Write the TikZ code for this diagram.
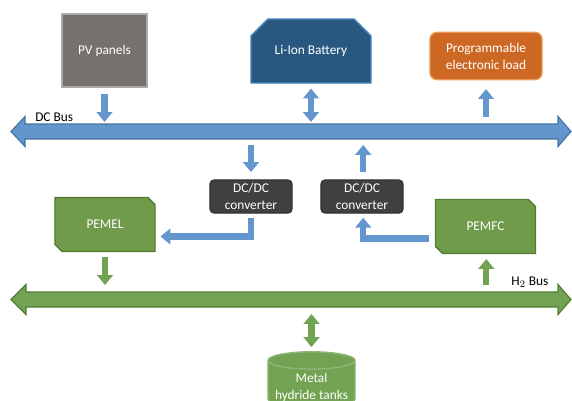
\documentclass[tikz,border=0pt]{standalone}
\usepackage{fontspec}
\setmainfont{Carlito}
\usetikzlibrary{positioning, arrows.meta, shapes.misc, shapes.geometric}

\definecolor{busblue}{RGB}{98,150,205}
\definecolor{busblueline}{RGB}{70,115,160}
\definecolor{busgreen}{RGB}{114,163,82}
\definecolor{busgreenline}{RGB}{80,125,50}
\definecolor{pvgray}{RGB}{118,113,109}
\definecolor{pvline}{RGB}{175,170,165}
\definecolor{battblue}{RGB}{40,88,128}
\definecolor{battline}{RGB}{75,135,195}
\definecolor{loadorange}{RGB}{204,104,36}
\definecolor{loadline}{RGB}{232,150,80}
\definecolor{convgray}{RGB}{64,64,64}
\definecolor{stackgreen}{RGB}{112,155,75}

\begin{document}
\begin{tikzpicture}[x=0.025cm,y=-0.025cm]
\tikzstyle{every node}=[font=\fontsize{9.5}{12}\selectfont, align=center, text=white]
\tikzstyle{unit}=[draw, line width=1pt, inner sep=2pt]
\tikzstyle{stack}=[unit, chamfered rectangle, chamfered rectangle corners={north east,south west},
    chamfered rectangle xsep=2.5pt, chamfered rectangle ysep=2.5pt, fill=stackgreen, draw=busgreenline,
    minimum width=2.5cm, minimum height=1.35cm]
\tikzstyle{converter}=[unit, rounded corners=3pt, fill=convgray, draw=black!80,
    minimum width=2.05cm, minimum height=0.825cm]
\tikzstyle{blue arrow}=[draw=busblue, line width=4.5pt, -{Triangle[width=11pt,length=7pt]}]
\tikzstyle{blue both}=[draw=busblue, line width=4.5pt, {Triangle[width=11pt,length=7pt]}-{Triangle[width=11pt,length=7pt]}]
\tikzstyle{green arrow}=[draw=busgreen, line width=4.5pt, -{Triangle[width=11pt,length=7pt]}]
\tikzstyle{green both}=[draw=busgreen, line width=4.5pt, {Triangle[width=11pt,length=7pt]}-{Triangle[width=11pt,length=7pt]}]

\useasboundingbox (0,0) rectangle (572,401);

% sources, storage and load on the DC side
\node[unit, fill=pvgray, draw=pvline, minimum width=2.125cm, minimum height=1.825cm] (PV) at (104.5,50.5) {PV panels};
\node[unit, chamfered rectangle, chamfered rectangle corners={north west,north east},
      chamfered rectangle xsep=6pt, chamfered rectangle ysep=6pt,
      fill=battblue, draw=battline, minimum width=3cm, minimum height=1.6cm] (BAT) at (311,51) {Li-Ion Battery};
\node[unit, rounded corners=5pt, fill=loadorange, draw=loadline,
      minimum width=2.8cm, minimum height=1.18cm] (LOAD) at (486,56) {Programmable\\electronic load};

% DC bus
\fill[busblue, draw=busblueline, line width=0.8pt]
  (11,131.5) -- (25,116.5) -- (25,124) -- (558,124) -- (558,116.5) -- (571,131.5)
  -- (558,146.5) -- (558,139) -- (25,139) -- (25,146.5) -- cycle;
\node[text=black, anchor=south west, inner sep=0pt] (DCB) at (35,122) {DC Bus};
\coordinate (dcin) at (0,122);
\coordinate (dcout) at (0,145);
\coordinate (dctop) at (0,117);

% converters and hydrogen stacks
\node[converter] (DC1) at (251,196.5) {DC/DC\\converter};
\node[converter] (DC2) at (362,196.5) {DC/DC\\converter};
\node[stack] (PEMEL) at (105,224.5) {PEMEL};
\node[stack] (PEMFC) at (485.5,226.5) {PEMFC};

% H2 bus
\fill[busgreen, draw=busgreenline, line width=0.8pt]
  (11,299.5) -- (26,284.5) -- (26,292) -- (558,292) -- (558,284.5) -- (571,299.5)
  -- (558,314.5) -- (558,307) -- (26,307) -- (26,314.5) -- cycle;
\node[text=black, anchor=south west, inner sep=0pt] (H2B) at (511,288) {H$_2$ Bus};
\coordinate (hin) at (0,285);
\coordinate (hout) at (0,314);

\node[unit, cylinder, shape border rotate=90, aspect=0.22, fill=busgreen, draw=busgreen!80!white,
      minimum width=2.175cm, minimum height=1.4cm, text depth=0pt] (MH) at (311.5,386) {Metal\\hydride tanks};

% connectors
\draw[blue arrow, shorten <=0.15cm] (PV.south) -- (PV.south |- dcin);
\draw[blue both, shorten <=0.12cm] (BAT.south) -- (BAT.south |- dcin);
\draw[blue arrow, shorten >=0.22cm] (LOAD.south |- dctop) -- (LOAD.south);
\draw[blue arrow, shorten >=0.18cm] (DC1.north |- dcout) -- (DC1.north);
\draw[blue arrow, shorten <=0.18cm] ([xshift=0.03cm]DC2.north) -- ([xshift=0.03cm]DC2.north |- dcout);
\draw[blue arrow, shorten <=0.1cm, shorten >=0.12cm] (DC1.south) |- ([yshift=-0.3cm]PEMEL.east);
\draw[blue arrow, shorten <=0.15cm, shorten >=0.1cm] ([yshift=-0.3cm]PEMFC.west) -| ([xshift=0.03cm]DC2.south);
\draw[green arrow, shorten <=0.12cm] (PEMEL.south) -- (PEMEL.south |- hin);
\draw[green arrow, shorten >=0.12cm] ([xshift=0.02cm]PEMFC.south |- hin) -- ([xshift=0.02cm]PEMFC.south);
\draw[green both, shorten >=0.1cm] (MH.north |- hout) -- (MH.north);
\end{tikzpicture}
\end{document}
